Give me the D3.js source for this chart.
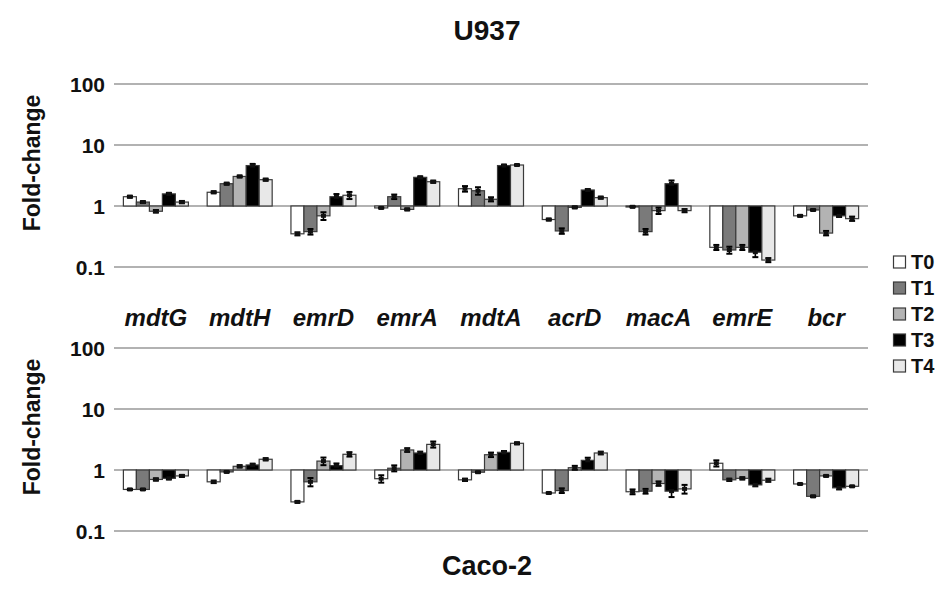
<!DOCTYPE html>
<html><head><meta charset="utf-8">
<script src="https://cdn.jsdelivr.net/npm/d3@7"></script>
<style>body{margin:0;background:#fff}svg{display:block}text{font-family:Arial,"Liberation Sans",sans-serif;font-weight:bold;fill:#111}</style>
</head><body><svg id="c" width="936" height="604"></svg>
<script>
const genes = ["mdtG","mdtH","emrD","emrA","mdtA","acrD","macA","emrE","bcr"];
const timepoints = ["T0","T1","T2","T3","T4"];
const tickValues = [0.1, 1, 10, 100];
const tickLabels = ["0.1","1","10","100"];
const colors = ["#ffffff","#7a7a7a","#b3b3b3","#000000","#e8e8e8"];

// U937 fold-change, rows = genes, columns = T0..T4
const u937 = [
  [1.42,1.16,0.82,1.58,1.16],
  [1.68,2.32,3.05,4.6,2.7],
  [0.35,0.38,0.69,1.42,1.5],
  [0.93,1.42,0.88,2.95,2.5],
  [1.92,1.78,1.29,4.6,4.7],
  [0.60,0.39,0.95,1.83,1.37],
  [0.97,0.38,0.84,2.32,0.84],
  [0.21,0.19,0.21,0.175,0.13],
  [0.69,0.86,0.36,0.69,0.62]
];
const u937Err = [
  [0.05,0.04,0.04,0.06,0.05],
  [0.06,0.08,0.1,0.3,0.1],
  [0.02,0.04,0.1,0.15,0.2],
  [0.02,0.12,0.03,0.1,0.1],
  [0.2,0.25,0.1,0.15,0.1],
  [0.02,0.04,0.03,0.06,0.05],
  [0.02,0.04,0.1,0.3,0.05],
  [0.02,0.025,0.02,0.03,0.01],
  [0.02,0.02,0.03,0.03,0.05]
];
// Caco-2 fold-change
const caco2 = [
  [0.48,0.48,0.70,0.73,0.80],
  [0.64,0.93,1.15,1.21,1.5],
  [0.30,0.64,1.4,1.18,1.81],
  [0.72,1.07,2.13,1.9,2.63],
  [0.69,0.92,1.78,1.95,2.74],
  [0.42,0.46,1.09,1.44,1.9],
  [0.44,0.45,0.60,0.45,0.49],
  [1.29,0.69,0.73,0.57,0.68],
  [0.59,0.37,0.80,0.51,0.54]
];
const caco2Err = [
  [0.01,0.01,0.03,0.03,0.03],
  [0.03,0.02,0.05,0.06,0.06],
  [0.01,0.1,0.2,0.1,0.15],
  [0.1,0.12,0.15,0.1,0.3],
  [0.03,0.02,0.15,0.1,0.1],
  [0.01,0.04,0.08,0.15,0.1],
  [0.04,0.04,0.05,0.09,0.08],
  [0.15,0.03,0.03,0.03,0.04],
  [0.01,0.01,0.02,0.03,0.01]
];

const svg = d3.select("#c");
const x0 = d3.scaleBand().domain(genes).range([114, 868]).paddingInner(0).paddingOuter(0);
const barW = 13;
const x1 = d3.scaleBand().domain(timepoints).range([0, barW*5]);

function panel(data, err, top, bottom, labelY) {
  const y = d3.scaleLog().domain([0.1, 100]).range([bottom, top]);
  const g = svg.append("g");
  g.selectAll("line.grid").data(tickValues).join("line")
    .attr("x1", 114).attr("x2", 868)
    .attr("y1", d => y(d)).attr("y2", d => y(d))
    .attr("stroke", "#999").attr("stroke-width", 1.3);
  g.selectAll("text.tick").data(tickValues).join("text")
    .attr("x", 105).attr("y", d => y(d) + 7.5)
    .attr("text-anchor", "end").attr("font-size", 21)
    .text((d,i) => tickLabels[i]);
  g.append("text").attr("transform", `translate(40,${labelY}) rotate(-90)`)
    .attr("text-anchor","middle").attr("font-size", 23).text("Fold-change");
  const base = y(1);
  genes.forEach((gene, gi) => {
    const gx = x0(gene) + x0.bandwidth()/2 - barW*5/2;
    timepoints.forEach((tp, ti) => {
      const v = data[gi][ti];
      const e = err[gi][ti];
      const bx = gx + x1(tp);
      const yv = y(v);
      g.append("rect").attr("x", bx).attr("y", Math.min(yv, base))
        .attr("width", barW).attr("height", Math.max(1, Math.abs(yv - base)))
        .attr("fill", colors[ti]).attr("stroke", "#3a3a3a").attr("stroke-width", 1.2);
      const cx = bx + barW/2;
      const ya = y(v + e), yb = y(Math.max(v - e, 0.01));
      g.append("line").attr("x1", cx).attr("x2", cx).attr("y1", ya).attr("y2", yb)
        .attr("stroke", "#000").attr("stroke-width", 1.6);
      [ya, yb].forEach(yy => g.append("line").attr("x1", cx-3).attr("x2", cx+3)
        .attr("y1", yy).attr("y2", yy).attr("stroke", "#000").attr("stroke-width", 2));
      g.append("rect").attr("x", cx-2.5).attr("y", yv-2).attr("width",5).attr("height",4).attr("fill","#111");
    });
  });
  return y;
}

panel(u937, u937Err, 84, 267, 163);
panel(caco2, caco2Err, 348, 531, 427);

svg.selectAll("text.cat").data(genes).join("text")
  .attr("x", d => x0(d) + x0.bandwidth()/2).attr("y", 326)
  .attr("text-anchor", "middle").attr("font-size", 24).attr("font-style", "italic")
  .text(d => d);

svg.append("text").attr("x", 487).attr("y", 40).attr("text-anchor","middle")
  .attr("font-size", 28).text("U937");
svg.append("text").attr("x", 487).attr("y", 575).attr("text-anchor","middle")
  .attr("font-size", 27).text("Caco-2");

const lg = svg.append("g");
timepoints.forEach((tp, i) => {
  const yy = 269 + i*26;
  lg.append("rect").attr("x", 893.5).attr("y", yy-13).attr("width", 12).attr("height", 12)
    .attr("fill", colors[i]).attr("stroke", "#3a3a3a").attr("stroke-width", 1.2);
  lg.append("text").attr("x", 911).attr("y", yy).attr("font-size", 20).text(tp);
});
</script></body></html>
